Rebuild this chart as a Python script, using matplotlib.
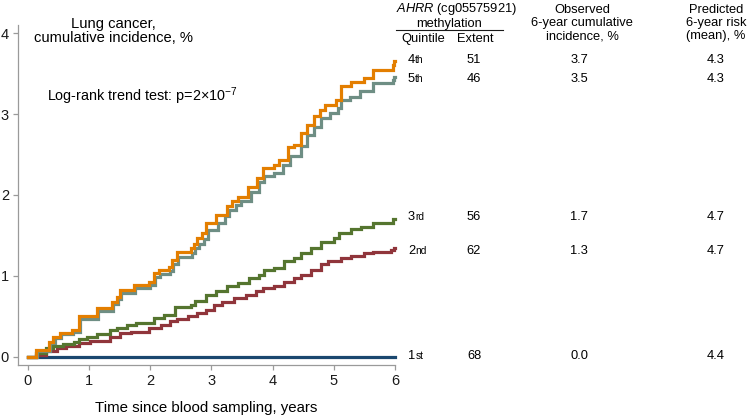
import numpy as np
import matplotlib
matplotlib.use("Agg")
import matplotlib.pyplot as plt

plt.rcParams['font.family'] = ['Liberation Sans', 'DejaVu Sans']
plt.rcParams['mathtext.fontset'] = 'custom'
plt.rcParams['mathtext.rm'] = 'Liberation Sans'
plt.rcParams['mathtext.it'] = 'Liberation Sans:italic'

# step curves (years, cumulative incidence %)
q4_t = [0.14, 0.34, 0.42, 0.53, 0.72, 0.83, 1.13, 1.38, 1.46, 1.51, 1.73, 1.98, 2.06, 2.14,
        2.30, 2.36, 2.44, 2.66, 2.71, 2.77, 2.85, 2.91, 3.07, 3.26, 3.34, 3.43, 3.59, 3.75,
        3.84, 4.03, 4.11, 4.25, 4.35, 4.46, 4.57, 4.68, 4.77, 4.85, 5.04, 5.12, 5.28, 5.50,
        5.64, 5.97, 5.99]
q4_v = [0.09, 0.19, 0.25, 0.30, 0.33, 0.50, 0.60, 0.68, 0.74, 0.83, 0.89, 0.93, 1.04, 1.07,
        1.11, 1.20, 1.30, 1.34, 1.40, 1.47, 1.53, 1.65, 1.75, 1.86, 1.92, 1.98, 2.10, 2.21,
        2.33, 2.37, 2.43, 2.59, 2.62, 2.76, 2.86, 2.97, 3.05, 3.11, 3.17, 3.35, 3.40, 3.44,
        3.54, 3.60, 3.65]

q5_t = [0.15, 0.36, 0.44, 0.55, 0.74, 0.85, 1.15, 1.40, 1.48, 1.53, 1.75, 2.00, 2.08, 2.16,
        2.32, 2.38, 2.46, 2.68, 2.74, 2.80, 2.88, 2.94, 3.10, 3.23, 3.29, 3.40, 3.48, 3.64,
        3.78, 3.86, 4.03, 4.17, 4.28, 4.46, 4.57, 4.68, 4.79, 4.93, 5.07, 5.12, 5.26, 5.42,
        5.64, 5.97, 5.99]
q5_v = [0.07, 0.17, 0.23, 0.28, 0.31, 0.47, 0.57, 0.65, 0.71, 0.79, 0.85, 0.89, 0.99, 1.02,
        1.06, 1.15, 1.24, 1.28, 1.34, 1.40, 1.46, 1.57, 1.65, 1.74, 1.81, 1.88, 1.92, 2.04,
        2.16, 2.23, 2.27, 2.37, 2.48, 2.60, 2.74, 2.84, 2.95, 3.01, 3.07, 3.17, 3.21, 3.28,
        3.38, 3.42, 3.46]

q3_t = [0.14, 0.30, 0.42, 0.58, 0.75, 0.83, 0.96, 1.13, 1.35, 1.46, 1.62, 1.76, 2.06, 2.22,
        2.41, 2.66, 2.74, 2.91, 3.07, 3.26, 3.43, 3.62, 3.78, 3.86, 4.03, 4.19, 4.35, 4.46,
        4.62, 4.79, 5.00, 5.09, 5.28, 5.44, 5.64, 5.96]
q3_v = [0.05, 0.11, 0.14, 0.16, 0.19, 0.22, 0.25, 0.28, 0.33, 0.36, 0.39, 0.42, 0.48, 0.52,
        0.62, 0.64, 0.69, 0.76, 0.81, 0.87, 0.91, 0.97, 1.01, 1.07, 1.10, 1.18, 1.22, 1.28,
        1.34, 1.42, 1.47, 1.53, 1.58, 1.60, 1.66, 1.70]

q2_t = [0.14, 0.30, 0.47, 0.63, 0.83, 1.02, 1.35, 1.51, 1.68, 1.98, 2.17, 2.33, 2.44, 2.61,
        2.77, 2.91, 3.04, 3.18, 3.37, 3.56, 3.73, 3.84, 4.03, 4.19, 4.35, 4.46, 4.62, 4.79,
        4.90, 5.12, 5.28, 5.50, 5.64, 5.94, 5.99]
q2_v = [0.02, 0.07, 0.11, 0.14, 0.17, 0.20, 0.25, 0.30, 0.31, 0.36, 0.40, 0.44, 0.47, 0.50,
        0.54, 0.58, 0.64, 0.68, 0.73, 0.77, 0.81, 0.85, 0.87, 0.93, 0.97, 1.01, 1.07, 1.15,
        1.18, 1.22, 1.25, 1.28, 1.30, 1.32, 1.35]

q1_t = []
q1_v = []

# table (rows in the order shown, top to bottom)
row_num = ['4', '5', '3', '2', '1']
row_suffix = ['th', 'th', 'rd', 'nd', 'st']
extent = [51, 46, 56, 62, 68]
observed = [3.7, 3.5, 1.7, 1.3, 0.0]
predicted = [4.3, 4.3, 4.7, 4.7, 4.4]

colors = {'1': '#1a476f', '2': '#90353b', '3': '#55752f', '4': '#e37e00', '5': '#6e8e84'}
curves = {'1': (q1_t, q1_v), '2': (q2_t, q2_v), '3': (q3_t, q3_v),
          '5': (q5_t, q5_v), '4': (q4_t, q4_v)}

W, H = 750, 418
fig = plt.figure(figsize=(W / 100, H / 100), dpi=100)
ax = fig.add_axes([18 / W, 1 - 365 / H, 377 / W, 340 / H])
ax.set_xlim(-0.16, 6.0)
ax.set_ylim(-0.1, 4.1)


def px2x(px):
    return -0.16 + (px - 18) / 377 * 6.16


def px2y(py):
    return -0.1 + (365 - py) / 340 * 4.2


for q in ['1', '2', '3', '5', '4']:
    t, v = curves[q]
    tt = np.r_[0.0, t, 6.0]
    vv = np.r_[0.0, v, v[-1] if v else 0.0]
    ax.step(tt, vv, where='post', color=colors[q], lw=2.3, clip_on=False,
            solid_joinstyle='miter')

for s in ['top', 'right']:
    ax.spines[s].set_visible(False)
for s in ['left', 'bottom']:
    ax.spines[s].set_color('#9a9a9a')
    ax.spines[s].set_linewidth(0.9)
ax.set_xticks(range(7))
ax.set_yticks(range(5))
ax.tick_params(length=3.5, width=0.9, color='#9a9a9a', labelsize=10.5,
               labelcolor='#1a1a1a', pad=3)
ax.set_xlabel('Time since blood sampling, years', fontsize=10.8, labelpad=9)

ax.text(px2x(113), px2y(31), 'Lung cancer,\ncumulative incidence, %', ha='center',
        va='center', fontsize=10.6, linespacing=1.05)
ax.text(px2x(47), px2y(96), 'Log-rank trend test: p=2\u00d710$^{-7}$', ha='left',
        va='center', fontsize=10.4)

# table header
hs = 9.3
ax.text(px2x(456), px2y(9), '$\\mathit{AHRR}$ (cg05575921)', ha='center', va='center', fontsize=hs)
ax.text(px2x(449), px2y(24), 'methylation', ha='center', va='center', fontsize=hs)
ax.plot([px2x(396), px2x(503)], [px2y(30), px2y(30)], color='#1a1a1a', lw=0.8, clip_on=False)
ax.text(px2x(423), px2y(39), 'Quintile', ha='center', va='center', fontsize=hs)
ax.text(px2x(475), px2y(39), 'Extent', ha='center', va='center', fontsize=hs)
ax.text(px2x(582), px2y(23), 'Observed\n6-year cumulative\nincidence, %', ha='center',
        va='center', fontsize=hs, linespacing=1.12)
ax.text(px2x(716), px2y(23), 'Predicted\n6-year risk\n(mean), %', ha='center',
        va='center', fontsize=hs, linespacing=1.12)

row_y = [3.69, 3.46, 1.75, 1.33, 0.04]
for i in range(len(row_num)):
    yb = row_y[i] - 0.06
    ax.annotate(row_num[i], (px2x(408), yb), ha='left', va='baseline', fontsize=hs,
                annotation_clip=False)
    ax.annotate(row_suffix[i], (px2x(408), yb), xytext=(5.2, 0), textcoords='offset points',
                ha='left', va='baseline', fontsize=7.3, annotation_clip=False)
    ax.text(px2x(474), yb, str(extent[i]), ha='center', va='baseline', fontsize=hs)
    ax.text(px2x(579), yb, f'{observed[i]:.1f}', ha='center', va='baseline', fontsize=hs)
    ax.text(px2x(716), yb, f'{predicted[i]:.1f}', ha='center', va='baseline', fontsize=hs)

fig.savefig('out.png', dpi=100)
